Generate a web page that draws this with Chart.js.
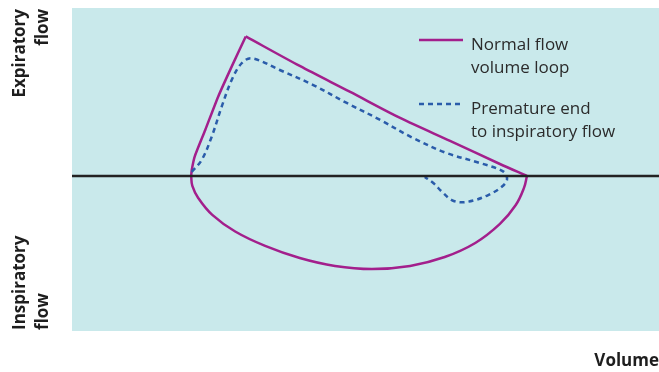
<!DOCTYPE html>
<html>
<head>
<meta charset="utf-8">
<script src="https://cdn.jsdelivr.net/npm/chart.js@4"></script>
<style>
  body { margin: 0; background: #fff; }
  #wrap { position: relative; width: 659px; height: 372px; font-family: 'Open Sans', sans-serif; }
  #chart { position: absolute; left: 0; top: 0; }
  .lbl { position: absolute; font-size: 17px; line-height: 23px; color: #2b2b2b; white-space: nowrap; }
  .bold { font-weight: bold; color: #1e1e1e; }
  .rot { transform-origin: 0 0; transform: rotate(-90deg); }
</style>
</head>
<body>
<div id="wrap">
  <canvas id="chart" width="659" height="372"></canvas>
  <div class="lbl bold rot" style="left:7px; top:119px; width:110px; text-align:right;">Expiratory<br>flow</div>
  <div class="lbl bold rot" style="left:7px; top:330px; width:110px; text-align:left;">Inspiratory<br>flow</div>
  <div class="lbl bold" style="right:0; top:348px; text-align:right;">Volume</div>
  <div class="lbl" style="left:471px; top:32px;">Normal flow<br>volume loop</div>
  <div class="lbl" style="left:471px; top:96px;">Premature end<br>to inspiratory flow</div>
</div>
<script>
// volume 0-100 across the plot, flow: + expiratory, - inspiratory
const riseVolume = [20.3, 20.4, 20.9, 22.7, 24.9, 27.2, 29.6];
const riseFlow   = [0, 3.7, 12.0, 28.5, 49.1, 67.7, 86.4];

const fallVolume = [29.6, 38.8, 47.4, 55.9, 64.4, 72.9, 77.5];
const fallFlow   = [86.4, 68.1, 52.0, 35.9, 21.7, 7.4, 0];

const inspVolume = [77.5, 77.0, 75.6, 72.9, 68.7, 63.5, 57.6, 51.1, 44.8, 38.8, 32.9, 27.8, 23.9, 21.5, 20.5, 20.3];
const inspFlow   = [0, -7.4, -18.0, -29.7, -41.5, -50.2, -55.7, -57.6, -55.7, -50.8, -43.3, -34.4, -24.1, -13.6, -6.2, 0];

const prematureVolume = [20.4, 22.1, 23.8, 25.5, 27.2, 28.9, 30.6, 35.4, 41.1, 46.8, 52.5, 58.1, 63.8, 69.5,
  73.5, 74.1, 72.9, 70.9, 68.7, 66.4, 64.7, 63.0, 61.6, 60.1];
const prematureFlow   = [2.5, 9.9, 24.3, 42.9, 59.4, 69.8, 72.9, 65.6, 56.3, 45.2, 34.7, 23.5, 14.2, 8.0,
  2.7, -2.5, -7.6, -11.8, -14.9, -16.3, -14.9, -9.7, -4.5, -0.6];

const axisVolume = [0, 100];
const axisFlow = [0, 0];

const purple = '#a31f8c';
const blue = '#2a5caa';

function toPoints(xs, ys) {
  return xs.map((x, i) => ({ x: x, y: ys[i] }));
}

function curve(xs, ys, color, tension) {
  return {
    data: toPoints(xs, ys),
    showLine: true,
    borderColor: color,
    borderWidth: 2.5,
    tension: tension,
    pointRadius: 0,
  };
}

const plotBackground = {
  id: 'plotBackground',
  beforeDraw(chart) {
    const { ctx, chartArea } = chart;
    ctx.save();
    ctx.fillStyle = '#c9e9eb';
    ctx.fillRect(chartArea.left, chartArea.top, chartArea.right - chartArea.left, chartArea.bottom - chartArea.top);
    ctx.restore();
  }
};

// legend line samples next to the html labels
const legendMarks = {
  id: 'legendMarks',
  afterDraw(chart) {
    const ctx = chart.ctx;
    ctx.save();
    ctx.lineWidth = 2.5;
    ctx.strokeStyle = purple;
    ctx.beginPath();
    ctx.moveTo(419, 40);
    ctx.lineTo(463, 40);
    ctx.stroke();
    ctx.strokeStyle = blue;
    ctx.setLineDash([5, 4]);
    ctx.beginPath();
    ctx.moveTo(419, 104);
    ctx.lineTo(463, 104);
    ctx.stroke();
    ctx.restore();
  }
};

const premature = curve(prematureVolume, prematureFlow, blue, 0.35);
premature.borderDash = [5, 4];

new Chart(document.getElementById('chart'), {
  type: 'scatter',
  data: {
    datasets: [
      curve(axisVolume, axisFlow, '#222', 0),
      premature,
      curve(riseVolume, riseFlow, purple, 0.2),
      curve(fallVolume, fallFlow, purple, 0.3),
      curve(inspVolume, inspFlow, purple, 0.4),
    ],
  },
  options: {
    responsive: false,
    animation: false,
    layout: { padding: { left: 72, top: 8, right: 0, bottom: 41 } },
    scales: {
      x: { type: 'linear', min: 0, max: 100, display: false },
      y: { min: -96, max: 104, display: false },
    },
    plugins: {
      legend: { display: false },
      tooltip: { enabled: false },
    },
  },
  plugins: [plotBackground, legendMarks],
});
</script>
</body>
</html>
